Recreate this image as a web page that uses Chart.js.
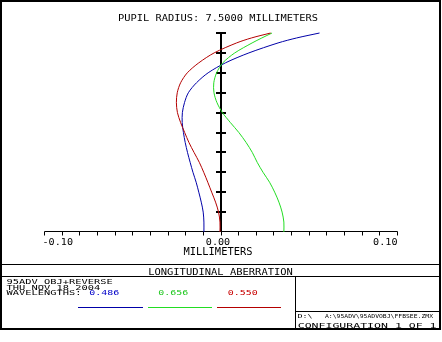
<!DOCTYPE html>
<html>
<head>
<meta charset="utf-8">
<script src="https://cdn.jsdelivr.net/npm/chart.js@4"></script>
<style>
  html, body { margin: 0; padding: 0; background: #fff; }
  canvas { display: block; }
</style>
</head>
<body>
<canvas id="chart" width="442" height="342"></canvas>
<script>
// normalised pupil coordinate (vertical axis)
const pupil = [0, 0.05, 0.1, 0.15, 0.2, 0.25, 0.3, 0.35, 0.4, 0.45, 0.5,
  0.55, 0.6, 0.65, 0.7, 0.75, 0.8, 0.85, 0.9, 0.95, 0.975, 1];

// longitudinal aberration in millimeters, one list per wavelength
const blueAberr = [-0.0094, -0.0094, -0.0098, -0.0109, -0.0123, -0.0138, -0.0156, -0.0172,
  -0.0187, -0.0200, -0.0210, -0.0217, -0.0216, -0.0204, -0.0182, -0.0136, -0.0070,
  0.0028, 0.0161, 0.0326, 0.0431, 0.0561];
const greenAberr = [0.0359, 0.0359, 0.0349, 0.0331, 0.0307, 0.0278, 0.0241, 0.0208,
  0.0180, 0.0145, 0.0104, 0.0056, 0.0011, -0.0020, -0.0037, -0.0038, -0.0022,
  0.0013, 0.0081, 0.0179, 0.0234, 0.0292];
const redAberr = [-0.0003, -0.0003, -0.0011, -0.0028, -0.0050, -0.0072, -0.0095, -0.0120,
  -0.0150, -0.0179, -0.0203, -0.0226, -0.0244, -0.0250, -0.0245, -0.0226, -0.0188,
  -0.0123, -0.0036, 0.0091, 0.0175, 0.0284];

const wavelengths = ["0.486", "0.656", "0.550"];
const curveColors = ["#0000a8", "#22dd22", "#b40000"];
const textColors = ["#0000c8", "#22c822", "#c80000"];

const xTickValues = [-0.1, 0, 0.1];
const xTickLabels = ["-0.10", "0.00", "0.10"];
const xMinorStep = 0.01;
const yTickValues = [0.1, 0.2, 0.3, 0.4, 0.5, 0.6, 0.7, 0.8, 0.9, 1];

const titleText = "PUPIL RADIUS: 7.5000 MILLIMETERS";
const axisTitle = "MILLIMETERS";
const plotName = "LONGITUDINAL ABERRATION";
const infoLines = ["95ADV_OBJ+REVERSE", "THU NOV 18 2004", "WAVELENGTHS:"];
const fileText = "A:\\95ADV\\95ADVOBJ\\FFBSEE.ZMX";
const configText = "CONFIGURATION 1 OF 1";

const FONT = '"DejaVu Sans Mono", "Liberation Mono", monospace';

function toPoints(xs) {
  return xs.map((v, i) => ({ x: v, y: pupil[i] }));
}

// plotter-style text: cw = char width, ch = cap height
function drawText(ctx, text, x, y, cw, ch, color, align, maxWidth) {
  const size = cw / 0.602;
  ctx.save();
  ctx.font = size + "px " + FONT;
  ctx.fillStyle = color || "#000";
  ctx.textAlign = align || "left";
  ctx.textBaseline = "alphabetic";
  ctx.translate(x, y);
  ctx.scale(1, ch / (0.729 * size));
  if (maxWidth) ctx.fillText(text, 0, 0, maxWidth);
  else ctx.fillText(text, 0, 0);
  ctx.restore();
}

function line(ctx, x1, y1, x2, y2, w) {
  ctx.lineWidth = w || 1;
  ctx.beginPath();
  ctx.moveTo(x1, y1);
  ctx.lineTo(x2, y2);
  ctx.stroke();
}

const axesPlugin = {
  id: "zemaxAxes",
  beforeDatasetsDraw(chart) {
    const ctx = chart.ctx;
    const xs = chart.scales.x;
    const ys = chart.scales.y;
    ctx.save();
    ctx.strokeStyle = "#000";
    const yBase = 231.5;
    const left = Math.round(xs.getPixelForValue(xs.min)) + 0.5;
    const right = Math.round(xs.getPixelForValue(xs.max)) + 0.5;
    line(ctx, left, yBase, right, yBase, 1);
    const n = Math.round((xs.max - xs.min) / xMinorStep);
    for (let i = 0; i <= n; i++) {
      const px = Math.round(xs.getPixelForValue(xs.min + i * xMinorStep)) + 0.5;
      line(ctx, px, yBase, px, yBase + 4, 1);
    }
    // vertical axis through zero
    const x0 = Math.round(xs.getPixelForValue(0));
    line(ctx, x0, ys.getPixelForValue(1), x0, yBase, 2);
    yTickValues.forEach(v => {
      const py = Math.round(ys.getPixelForValue(v));
      line(ctx, x0 - 5, py, x0 + 5, py, 2);
    });
    ctx.restore();
  },
  afterDraw(chart) {
    const ctx = chart.ctx;
    const xs = chart.scales.x;
    ctx.save();
    ctx.strokeStyle = "#000";
    // frame and boxes
    ctx.lineWidth = 2;
    ctx.strokeRect(1, 1, 439, 328);
    line(ctx, 1, 264.5, 440, 264.5, 1);
    line(ctx, 1, 276.5, 440, 276.5, 1);
    line(ctx, 295.5, 276, 295.5, 329, 1);
    line(ctx, 295, 311.5, 440, 311.5, 1);

    drawText(ctx, titleText, 218, 20.7, 6.25, 6.7, "#000", "center");

    // tick labels
    const aligns = ["left", "center", "right"];
    const offs = [-1.5, -2.5, 0.5];
    xTickValues.forEach((v, i) => {
      drawText(ctx, xTickLabels[i], xs.getPixelForValue(v) + offs[i], 245, 6.1, 6.7, "#000", aligns[i]);
    });
    drawText(ctx, axisTitle, 218, 255, 6.27, 7, "#000", "center");

    drawText(ctx, plotName, 220.5, 275, 6.3, 6.7, "#000", "center");

    const infoY = [283.7, 289.5, 295.3];
    infoLines.forEach((t, i) => drawText(ctx, t, 6.5, infoY[i], 6.25, 5, "#000", "left"));

    const wlX = [89.3, 158.3, 227.7];
    const ulX = [[78, 143], [148, 212], [217, 281]];
    wavelengths.forEach((w, i) => {
      drawText(ctx, w, wlX[i], 295.3, 6, 5, textColors[i], "left");
      ctx.strokeStyle = curveColors[i];
      line(ctx, ulX[i][0], 307.5, ulX[i][1], 307.5, 1);
    });

    drawText(ctx, "D:\\", 297.5, 318.3, 5, 4.2, "#000", "left");
    drawText(ctx, fileText, 325, 318.3, 5, 4.2, "#000", "left", 108);
    drawText(ctx, configText, 297.7, 328.2, 6.95, 5.6, "#000", "left");
    ctx.restore();
  }
};

const datasets = [
  { label: wavelengths[2], data: toPoints(redAberr), borderColor: curveColors[2] },
  { label: wavelengths[1], data: toPoints(greenAberr), borderColor: curveColors[1] },
  { label: wavelengths[0], data: toPoints(blueAberr), borderColor: curveColors[0] }
].map(d => Object.assign(d, {
  showLine: true,
  borderWidth: 1,
  pointRadius: 0,
  tension: 0.3,
  fill: false,
  clip: false
}));

new Chart(document.getElementById("chart"), {
  type: "scatter",
  data: { datasets },
  options: {
    responsive: false,
    animation: false,
    layout: { padding: { left: 44, right: 45, top: 33, bottom: 110 } },
    plugins: {
      legend: { display: false },
      title: { display: false },
      tooltip: { enabled: false }
    },
    scales: {
      x: { type: "linear", min: -0.1, max: 0.1, display: false },
      y: { type: "linear", min: 0, max: 1, display: false }
    }
  },
  plugins: [axesPlugin]
});
</script>
</body>
</html>
